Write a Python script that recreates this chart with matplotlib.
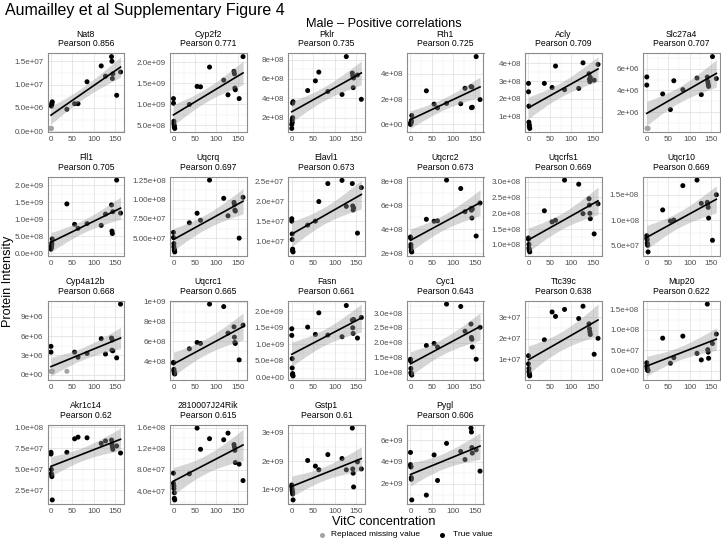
import numpy as np
import matplotlib.pyplot as plt

plt.rcParams['font.family'] = ['Liberation Sans', 'DejaVu Sans']

# VitC concentration of each mouse (shared by every panel)
vitc = [0, 0, 1, 1, 2, 2, 3, 37, 55, 63, 84, 117, 127, 141, 142, 143, 144, 153, 162]

genes = ["Nat8", "Cyp2f2", "Pklr", "Fth1", "Acly", "Slc27a4",
         "Fll1", "Uqcrq", "Elavl1", "Uqcrc2", "Uqcrfs1", "Uqcr10",
         "Cyp4a12b", "Uqcrc1", "Fasn", "Cyc1", "Ttc39c", "Mup20",
         "Akr1c14", "2810007J24Rik", "Gstp1", "Pygl"]
pearson = [0.856, 0.771, 0.735, 0.725, 0.709, 0.707,
           0.705, 0.697, 0.673, 0.673, 0.669, 0.669,
           0.668, 0.665, 0.661, 0.643, 0.638, 0.622,
           0.62, 0.615, 0.61, 0.606]

# protein intensity, same order as vitc
nat8 = np.array([0.6, 0.6, 0.6, 5.4, 5.7, 6.0, 6.3, 4.7, 5.9, 5.9, 10.6, 14.0, 11.8, 16.0, 15.0, 11.3, 12.3, 7.7, 12.7]) * 1e6
cyp2f2 = np.array([1.13, 1.02, 0.59, 0.53, 0.48, 0.45, 0.42, 0.99, 1.42, 1.41, 1.88, 1.57, 1.22, 1.78, 1.72, 1.38, 1.34, 1.13, 2.13]) * 1e9
pklr = np.array([0.9, 1.3, 1.5, 1.75, 2.0, 3.5, 3.65, 4.8, 5.8, 6.7, 4.7, 4.4, 8.3, 6.6, 6.3, 5.1, 6.1, 6.4, 3.9]) * 1e8
fth1 = np.array([0.0, 0.05, 0.1, 0.15, 0.2, 0.3, 0.7, 2.65, 1.6, 1.3, 1.66, 1.63, 2.85, 2.98, 1.32, 2.95, 1.35, 5.35, 1.96]) * 1e8
acly = np.array([2.87, 2.4, 1.6, 0.7, 0.55, 0.45, 0.35, 2.87, 2.64, 3.84, 2.52, 2.59, 4.02, 3.41, 3.1, 2.97, 3.2, 3.05, 3.93]) * 1e8
slc27a4 = np.array([5.25, 4.5, 0.5, 0.5, 0.5, 0.5, 0.5, 3.68, 2.24, 4.9, 4.08, 5.15, 3.62, 5.24, 4.84, 4.6, 4.38, 7.13, 5.1]) * 1e6
fll1 = np.array([0.12, 0.15, 0.17, 0.2, 0.25, 0.3, 0.42, 1.45, 0.85, 0.73, 0.87, 0.82, 1.15, 1.42, 0.65, 0.58, 1.22, 2.15, 1.18]) * 1e9
uqcrq = np.array([5.75, 5.08, 4.29, 3.88, 3.54, 3.4, 3.2, 7.0, 8.25, 7.33, 12.58, 10.2, 7.92, 9.67, 9.4, 8.67, 8.54, 5.0, 10.33]) * 1e7
elavl1 = np.array([1.56, 1.5, 1.18, 1.04, 0.8, 0.76, 0.73, 1.40, 1.5, 1.99, 2.44, 2.52, 1.87, 2.44, 1.88, 1.78, 1.83, 1.2, 2.34]) * 1e7
uqcrc2 = np.array([3.37, 3.3, 2.74, 2.53, 2.27, 2.2, 2.13, 4.84, 4.68, 4.71, 8.1, 7.4, 5.47, 5.74, 5.6, 4.95, 5.7, 3.45, 6.2]) * 1e8
uqcrfs1 = np.array([1.22, 1.18, 1.02, 0.9, 0.85, 0.83, 0.78, 2.08, 1.73, 1.78, 3.05, 2.92, 1.99, 2.46, 2.26, 2.0, 1.83, 1.35, 2.3]) * 1e8
uqcr10 = np.array([0.69, 0.64, 0.61, 0.545, 0.52, 0.5, 0.37, 1.2, 0.98, 1.0, 1.68, 1.79, 1.33, 1.35, 1.31, 1.25, 1.04, 0.6, 1.5]) * 1e8
cyp4a12b = np.array([4.4, 3.5, 0.5, 0.5, 0.5, 0.5, 0.5, 0.5, 3.5, 2.7, 3.3, 5.6, 3.2, 5.7, 3.8, 5.4, 3.7, 2.6, 11.0]) * 1e6
uqcrc1 = np.array([3.9, 3.84, 3.2, 3.05, 2.9, 2.8, 2.74, 5.26, 5.9, 5.8, 9.75, 9.5, 6.84, 7.47, 6.43, 5.9, 5.8, 4.15, 7.63]) * 1e8
fasn = np.array([1.47, 1.27, 0.57, 0.29, 0.12, 0.08, 0.05, 1.52, 1.3, 1.95, 1.28, 1.23, 2.17, 1.73, 1.5, 1.33, 1.75, 1.19, 1.81]) * 1e9
cyc1 = np.array([1.45, 1.4, 1.14, 1.0, 0.98, 0.95, 0.92, 1.91, 1.98, 1.86, 3.3, 3.22, 2.39, 2.63, 2.18, 2.12, 1.86, 1.45, 2.52]) * 1e8
ttc39c = np.array([1.2, 0.82, 0.6, 0.45, 0.37, 0.3, 0.25, 1.95, 3.26, 3.05, 3.38, 2.95, 3.53, 2.7, 2.47, 2.32, 2.2, 1.27, 2.02]) * 1e7
mup20 = np.array([2.0, 1.2, 0.8, 0.5, 0.3, 0.2, 0.1, 8.0, 1.9, 3.25, 8.5, 4.3, 2.7, 16.3, 5.2, 4.6, 3.1, 6.7, 9.0]) * 1e7
akr1c14 = np.array([7.04, 6.84, 5.0, 4.53, 4.34, 4.15, 1.38, 7.04, 8.65, 8.85, 8.77, 8.1, 8.4, 8.5, 8.0, 7.7, 7.4, 7.8, 6.96]) * 1e7
rik2810007j24 = np.array([7.4, 5.5, 5.0, 4.5, 3.7, 2.65, 2.35, 7.27, 15.9, 11.9, 13.9, 13.7, 14.95, 12.8, 12.3, 11.7, 9.4, 9.1, 6.0]) * 1e7
gstp1 = np.array([1.15, 1.08, 1.0, 0.94, 0.89, 0.83, 0.62, 2.02, 1.82, 1.69, 2.23, 2.09, 1.69, 3.17, 1.72, 1.57, 1.08, 1.97, 1.72]) * 1e9
pygl = np.array([4.87, 3.75, 3.6, 3.54, 2.56, 2.41, 0.52, 0.96, 4.64, 2.3, 5.7, 4.96, 4.22, 7.1, 6.74, 5.32, 4.81, 5.11, 3.16]) * 1e9

intensity = [nat8, cyp2f2, pklr, fth1, acly, slc27a4,
             fll1, uqcrq, elavl1, uqcrc2, uqcrfs1, uqcr10,
             cyp4a12b, uqcrc1, fasn, cyc1, ttc39c, mup20,
             akr1c14, rik2810007j24, gstp1, pygl]

# indices of replaced (imputed) values
replaced = {"Nat8": [0, 1, 2], "Slc27a4": [2, 3, 4, 5, 6], "Cyp4a12b": [2, 3, 4, 5, 6, 7]}

ytick_labels = [
    ["0.0e+00", "5.0e+06", "1.0e+07", "1.5e+07"],
    ["5.0e+08", "1.0e+09", "1.5e+09", "2.0e+09"],
    ["2e+08", "4e+08", "6e+08", "8e+08"],
    ["0e+00", "2e+08", "4e+08"],
    ["1e+08", "2e+08", "3e+08", "4e+08"],
    ["2e+06", "4e+06", "6e+06"],
    ["0.0e+00", "5.0e+08", "1.0e+09", "1.5e+09", "2.0e+09"],
    ["5.00e+07", "7.50e+07", "1.00e+08", "1.25e+08"],
    ["1.0e+07", "1.5e+07", "2.0e+07", "2.5e+07"],
    ["2e+08", "4e+08", "6e+08", "8e+08"],
    ["1.0e+08", "1.5e+08", "2.0e+08", "2.5e+08", "3.0e+08"],
    ["5.0e+07", "1.0e+08", "1.5e+08"],
    ["0e+00", "3e+06", "6e+06", "9e+06"],
    ["4e+08", "6e+08", "8e+08", "1e+09"],
    ["0.0e+00", "5.0e+08", "1.0e+09", "1.5e+09", "2.0e+09"],
    ["1.0e+08", "1.5e+08", "2.0e+08", "2.5e+08", "3.0e+08"],
    ["1e+07", "2e+07", "3e+07"],
    ["0.0e+00", "5.0e+07", "1.0e+08", "1.5e+08"],
    ["2.5e+07", "5.0e+07", "7.5e+07", "1.0e+08"],
    ["4.0e+07", "8.0e+07", "1.2e+08", "1.6e+08"],
    ["1e+09", "2e+09", "3e+09"],
    ["2e+09", "4e+09", "6e+09"],
]
xticks = [0, 50, 100, 150]

W, H = 721, 543
col_left = [47.5, 170, 288.3, 407, 525, 643.3]
row_top = [53, 176.5, 300.5, 424.5]
pw, ph = 76.5, 79
T95 = 2.1098  # t quantile, df = 17

fig = plt.figure(figsize=(W / 100, H / 100), dpi=100)
over = fig.add_axes([0, 0, 1, 1])
over.set_xlim(0, W)
over.set_ylim(H, 0)
over.axis('off')


def minor_of(major, lo, hi):
    step = major[1] - major[0]
    ext = [major[0] - step] + list(major) + [major[-1] + step]
    mids = [(a + b) / 2 for a, b in zip(ext[:-1], ext[1:])]
    return [m for m in mids if lo <= m <= hi]


x = np.array(vitc, dtype=float)
for i, gene in enumerate(genes):
    r, c = divmod(i, 6)
    left, top = col_left[c], row_top[r]
    ax = fig.add_axes([left / W, 1 - (top + ph) / H, pw / W, ph / H])
    y = intensity[i]

    cols = ['#a3a3a3' if j in replaced.get(gene, []) else 'black' for j in range(len(x))]
    ax.scatter(x, y, s=13, c=cols, linewidths=0, zorder=2)

    # linear fit with 95% band
    b, a = np.polyfit(x, y, 1)
    xs = np.linspace(x.min(), x.max(), 80)
    yhat = a + b * xs
    n = len(x)
    s = np.sqrt(np.sum((y - (a + b * x)) ** 2) / (n - 2))
    se = s * np.sqrt(1 / n + (xs - x.mean()) ** 2 / np.sum((x - x.mean()) ** 2))
    ax.fill_between(xs, yhat - T95 * se, yhat + T95 * se, color='#999999', alpha=0.4, lw=0, zorder=3)
    ax.plot(xs, yhat, color='black', lw=1.2, zorder=4)

    lo = min(y.min(), (yhat - T95 * se).min())
    hi = max(y.max(), (yhat + T95 * se).max())
    pad = 0.05 * (hi - lo)
    ylo, yhi = lo - pad, hi + pad
    xpad = 0.05 * (x.max() - x.min())
    xlo, xhi = x.min() - xpad, x.max() + xpad
    ax.set_xlim(xlo, xhi)
    ax.set_ylim(ylo, yhi)

    yt = [float(t) for t in ytick_labels[i]]
    ax.set_yticks(yt)
    ax.set_yticklabels(ytick_labels[i])
    ax.set_xticks(xticks)
    ax.set_xticklabels([str(t) for t in xticks])
    ax.set_yticks(minor_of(yt, ylo, yhi), minor=True)
    ax.set_xticks(minor_of(xticks, xlo, xhi), minor=True)
    ax.grid(which='major', color='#e3e3e3', lw=0.6)
    ax.grid(which='minor', color='#eeeeee', lw=0.35)
    ax.set_axisbelow(True)
    ax.tick_params(which='both', length=0, pad=3, labelsize=5.8, labelcolor='#4d4d4d')
    for sp in ax.spines.values():
        sp.set_color('#8c8c8c')
        sp.set_linewidth(0.8)

    cx = left + pw / 2
    over.text(cx, top - 18.5, gene, ha='center', va='center', fontsize=6.2)
    over.text(cx, top - 9.5, f"Pearson {pearson[i]}", ha='center', va='center', fontsize=6.2)

over.text(5, 11, "Aumailley et al Supplementary Figure 4", ha='left', va='center', fontsize=11.5)
over.text(383.5, 24, "Male \u2013 Positive correlations", ha='center', va='center', fontsize=9.2)
over.text(383.5, 522, "VitC concentration", ha='center', va='center', fontsize=9.1)
over.text(8, 281, "Protein Intensity", ha='center', va='center', rotation=90, fontsize=9.1)

over.scatter([322], [535], s=13, color='#a3a3a3', linewidths=0)
over.text(331, 535, "Replaced missing value", ha='left', va='center', fontsize=6)
over.scatter([442], [535], s=13, color='black', linewidths=0)
over.text(453, 535, "True value", ha='left', va='center', fontsize=6)

fig.savefig('out.png', dpi=100)
